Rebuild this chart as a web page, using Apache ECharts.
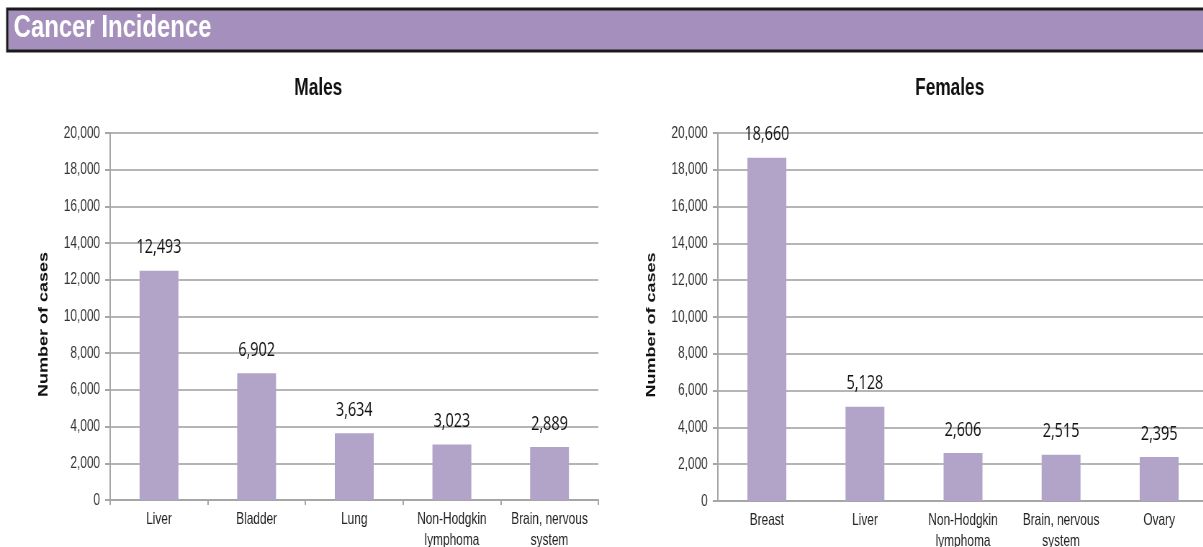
<!DOCTYPE html>
<html>
<head>
<meta charset="utf-8">
<script src="https://cdn.jsdelivr.net/npm/echarts@6/dist/echarts.min.js"></script>
<style>
  html, body { margin: 0; padding: 0; background: #fff; overflow: hidden; }
  #wrap { width: 1203px; height: 547px; overflow: hidden; }
  /* drawn wide, then condensed horizontally for a narrow-type look */
  #chart { width: 1671px; height: 547px; transform: scaleX(0.72); transform-origin: 0 0; }
</style>
</head>
<body>
<div id="wrap"><div id="chart"></div></div>
<script>
// Cancer incidence counts by site
const maleSites = ['Liver', 'Bladder', 'Lung', 'Non-Hodgkin\nlymphoma', 'Brain, nervous\nsystem'];
const maleCases = [12493, 6902, 3634, 3023, 2889];
const femaleSites = ['Breast', 'Liver', 'Non-Hodgkin\nlymphoma', 'Brain, nervous\nsystem', 'Ovary'];
const femaleCases = [18660, 5128, 2606, 2515, 2395];
const yTicks = { min: 0, max: 20000, interval: 2000 };

const sans = '"Liberation Sans", Arial, sans-serif';
const barColor = '#b2a3c9';
const axisGrey = '#a6a6a6';
const fmt = v => v.toLocaleString('en-US');

function yAxis(gridIndex) {
  return {
    type: 'value', gridIndex,
    min: yTicks.min, max: yTicks.max, interval: yTicks.interval,
    name: 'Number of cases', nameLocation: 'middle', nameGap: 83,
    nameTextStyle: { fontFamily: sans, fontWeight: 'bold', fontSize: 18, color: '#111', padding: [0, 16, 0, 0] },
    axisLine: { show: true, lineStyle: { color: axisGrey, width: 2 } },
    axisTick: { show: true, length: 7, lineStyle: { color: axisGrey, width: 2 } },
    axisLabel: { fontFamily: sans, fontSize: 16.5, color: '#333', margin: 14, formatter: fmt },
    splitLine: { show: true, lineStyle: { color: '#b5b5b5', width: 2 } }
  };
}
function xAxis(gridIndex, data, ticks) {
  return {
    type: 'category', gridIndex, data,
    axisLine: { show: true, lineStyle: { color: axisGrey, width: 2 } },
    axisTick: { show: ticks, length: 5, alignWithLabel: false, lineStyle: { color: axisGrey, width: 2 } },
    axisLabel: { fontFamily: sans, fontSize: 16.5, color: '#222', margin: 9, lineHeight: 21, interval: 0 }
  };
}
function bars(i, data) {
  return {
    type: 'bar', xAxisIndex: i, yAxisIndex: i, data,
    barWidth: 54,
    itemStyle: { color: barColor },
    label: {
      show: true, position: 'top', distance: 13,
      fontFamily: '"Open Sans", "Liberation Sans", sans-serif',
      fontSize: 20, color: '#111', formatter: p => fmt(p.value)
    }
  };
}

const chart = echarts.init(document.getElementById('chart'), null, { renderer: 'canvas' });
chart.setOption({
  animation: false,
  graphic: [
    { type: 'rect', shape: { x: 10, y: 9, width: 1700, height: 42 },
      style: { fill: '#a590bd', stroke: '#1a1a1a', lineWidth: 3 } },
    { type: 'text', left: 19, top: 13, scaleX: 1.07,
      style: { text: 'Cancer Incidence', fill: '#fff', font: 'bold 31px ' + sans } }
  ],
  title: [
    { text: 'Males', left: 437, top: 71, textAlign: 'center',
      textStyle: { fontFamily: sans, fontWeight: 'bold', fontSize: 24, color: '#111' } },
    { text: 'Females', left: 1314, top: 71, textAlign: 'center',
      textStyle: { fontFamily: sans, fontWeight: 'bold', fontSize: 24, color: '#111' } }
  ],
  grid: [
    { left: 153, right: 840, top: 133, bottom: 47, outerBoundsMode: 'none' },
    { left: 997, right: -7, top: 133, bottom: 46, outerBoundsMode: 'none' }
  ],
  xAxis: [xAxis(0, maleSites, true), xAxis(1, femaleSites, false)],
  yAxis: [yAxis(0), yAxis(1)],
  series: [bars(0, maleCases), bars(1, femaleCases)]
});
</script>
</body>
</html>
